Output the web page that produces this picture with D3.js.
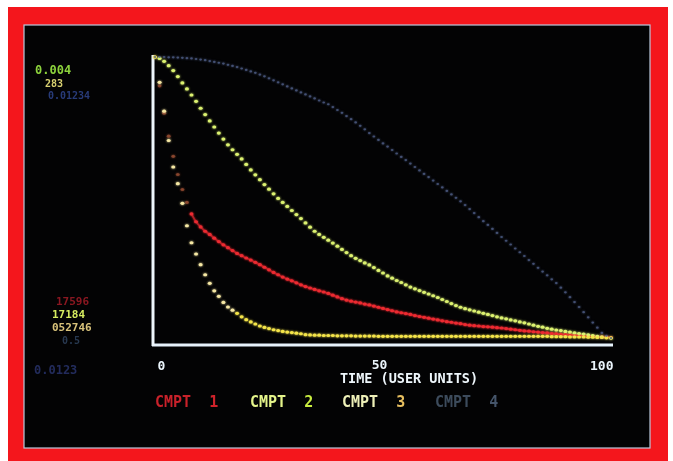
<!DOCTYPE html>
<html>
<head>
<meta charset="utf-8">
<script src="https://cdn.jsdelivr.net/npm/d3@7"></script>
<style>
  html, body { margin: 0; padding: 0; background: #ffffff; }
  svg { display: block; }
</style>
</head>
<body>
<svg id="chart" width="673" height="461"></svg>
<script>
// ---- data (values normalised to each compartment's start) ----
const times = [0,1,2,3,4,5,6,7,8,9,10,11,12,13,14,15,16,17,18,19,20,21,22,23,24,25,26,27,28,29,30,
  31,32,33,34,35,36,37,38,39,40,41,42,43,44,45,46,47,48,49,50,51,52,53,54,55,56,57,58,59,60,
  61,62,63,64,65,66,67,68,69,70,71,72,73,74,75,76,77,78,79,80,81,82,83,84,85,86,87,88,89,90,
  91,92,93,94,95,96,97,98,99,100];

const cmpt1 = [1.000,0.900,0.805,0.725,0.655,0.592,0.540,0.495,0.455,0.428,0.410,
  0.395,0.384,0.371,0.359,0.348,0.338,0.328,0.318,0.310,0.302,
  0.295,0.287,0.279,0.270,0.261,0.252,0.244,0.236,0.229,0.223,
  0.216,0.209,0.203,0.198,0.193,0.188,0.184,0.179,0.173,0.167,
  0.161,0.156,0.152,0.149,0.146,0.142,0.139,0.135,0.131,0.127,
  0.123,0.119,0.115,0.112,0.109,0.106,0.102,0.099,0.096,0.093,
  0.090,0.087,0.084,0.081,0.079,0.076,0.074,0.071,0.069,0.067,
  0.066,0.064,0.063,0.062,0.060,0.059,0.057,0.055,0.053,0.051,
  0.049,0.048,0.046,0.045,0.043,0.042,0.040,0.039,0.037,0.036,
  0.035,0.034,0.033,0.032,0.031,0.030,0.029,0.028,0.027,0.026];

const cmpt2 = [1.000,0.995,0.985,0.970,0.953,0.932,0.910,0.889,0.868,0.846,0.822,
  0.800,0.778,0.757,0.736,0.715,0.695,0.678,0.662,0.646,0.627,
  0.608,0.591,0.574,0.557,0.541,0.525,0.509,0.495,0.481,0.467,
  0.453,0.439,0.424,0.409,0.395,0.384,0.374,0.364,0.354,0.343,
  0.332,0.321,0.310,0.301,0.293,0.285,0.278,0.269,0.259,0.250,
  0.240,0.232,0.224,0.217,0.209,0.201,0.195,0.189,0.183,0.177,
  0.171,0.165,0.158,0.151,0.144,0.137,0.131,0.126,0.122,0.118,
  0.114,0.110,0.106,0.102,0.098,0.094,0.091,0.087,0.084,0.080,
  0.077,0.073,0.069,0.065,0.062,0.058,0.055,0.052,0.050,0.047,
  0.045,0.042,0.040,0.038,0.035,0.033,0.030,0.028,0.026,0.024];

const cmpt3 = [1.000,0.912,0.812,0.710,0.618,0.560,0.492,0.414,0.355,0.316,0.279,
  0.244,0.214,0.188,0.169,0.148,0.132,0.121,0.110,0.098,0.088,
  0.080,0.073,0.066,0.061,0.057,0.053,0.050,0.047,0.045,0.043,
  0.041,0.039,0.036,0.035,0.034,0.034,0.033,0.033,0.033,0.032,
  0.032,0.032,0.032,0.031,0.031,0.031,0.031,0.031,0.030,0.030,
  0.030,0.030,0.030,0.030,0.030,0.030,0.030,0.030,0.030,0.030,
  0.030,0.030,0.030,0.030,0.030,0.030,0.030,0.030,0.030,0.030,
  0.030,0.030,0.030,0.030,0.030,0.030,0.030,0.030,0.030,0.030,
  0.030,0.030,0.030,0.030,0.030,0.030,0.029,0.029,0.029,0.029,
  0.028,0.028,0.028,0.028,0.027,0.027,0.026,0.026,0.025,0.025];

const cmpt4 = [1.000,1.000,1.000,0.999,0.999,0.998,0.997,0.996,0.995,0.993,0.991,
  0.989,0.986,0.983,0.980,0.977,0.973,0.969,0.965,0.960,0.955,
  0.950,0.945,0.939,0.933,0.926,0.919,0.912,0.905,0.898,0.891,
  0.884,0.877,0.870,0.863,0.856,0.849,0.842,0.836,0.826,0.816,
  0.806,0.795,0.784,0.773,0.761,0.749,0.736,0.724,0.712,0.700,
  0.689,0.677,0.665,0.653,0.642,0.630,0.618,0.606,0.594,0.583,
  0.571,0.559,0.547,0.535,0.523,0.511,0.499,0.486,0.472,0.458,
  0.444,0.430,0.417,0.403,0.389,0.375,0.362,0.349,0.335,0.322,
  0.309,0.295,0.282,0.268,0.255,0.242,0.228,0.215,0.199,0.183,
  0.166,0.149,0.132,0.114,0.096,0.078,0.060,0.042,0.032,0.024];

const seriesNames = ["CMPT  1", "CMPT  2", "CMPT  3", "CMPT  4"];
const xTickValues = [0, 50, 100];
const xTitle = "TIME (USER UNITS)";
const topLabels = ["0.004", "283", "0.01234"];
const bottomLabels = ["17596", "17184", "052746", "0.5", "0.0123"];

// ---- drawing ----
const svg = d3.select("#chart");

const defs = svg.append("defs");
const glow = defs.append("filter").attr("id", "glow").attr("filterUnits", "userSpaceOnUse")
  .attr("x", -700).attr("y", -500).attr("width", 2100).attr("height", 1500);
glow.append("feGaussianBlur").attr("in", "SourceGraphic").attr("stdDeviation", 1.1).attr("result", "b");
const m = glow.append("feMerge");
m.append("feMergeNode").attr("in", "b");
m.append("feMergeNode").attr("in", "SourceGraphic");
const soft = defs.append("filter").attr("id", "soft").attr("filterUnits", "userSpaceOnUse")
  .attr("x", -700).attr("y", -500).attr("width", 2100).attr("height", 1500);
soft.append("feGaussianBlur").attr("stdDeviation", 0.45);

// red bezel and black screen
svg.append("rect").attr("x", 8).attr("y", 7).attr("width", 660).attr("height", 460).attr("fill", "#f4161c");
svg.append("rect").attr("x", 24).attr("y", 25).attr("width", 626).attr("height", 423)
  .attr("fill", "#030304").attr("stroke", "#b9c8dc").attr("stroke-width", 1.2);

const x = d3.scaleLinear().domain([0, 100]).range([155, 611]);
const y = d3.scaleLinear().domain([0, 1]).range([345, 57]);

const colors = ["#ec2a30", "#dcf270", "#f4e44a", "#4e5c86"];
const data = [cmpt1, cmpt2, cmpt3, cmpt4];

// axes
const xAxis = d3.axisBottom(x).tickValues(xTickValues).tickSize(0).tickSizeOuter(0).tickPadding(17);
const gx = svg.append("g").attr("transform", "translate(0,345)").call(xAxis).attr("filter", "url(#soft)");
gx.select(".domain").attr("stroke", "#e6f2fb").attr("stroke-width", 3).attr("d", "M152,0H613");
gx.selectAll(".tick text")
  .attr("fill", "#eaf4fb")
  .attr("font-family", "'DejaVu Sans Mono', monospace")
  .attr("font-weight", "bold")
  .attr("font-size", 13)
  .attr("text-anchor", d => d === 100 ? "end" : "middle")
  .attr("dx", d => d === 0 ? 6 : d === 50 ? -4 : 2)
  .attr("dy", d => d === 50 ? "0.5em" : "0.62em");

const yAxis = d3.axisLeft(y).tickValues([]).tickSizeOuter(0);
const gy = svg.append("g").attr("transform", "translate(153,0)").call(yAxis).attr("filter", "url(#soft)");
gy.select(".domain").attr("stroke", "#eef6fc").attr("stroke-width", 3).attr("d", "M0,55V346");

const plot = svg.append("g").attr("filter", "url(#glow)");

// curves (dot plots)
data.forEach((vals, i) => {
  const pts = times.map((t, k) => [t, vals[k]]);
  if (i === 0) {
    plot.append("path").datum(pts.filter(d => d[0] >= 8))
      .attr("d", d3.line().x(d => x(d[0])).y(d => y(d[1])).curve(d3.curveMonotoneX))
      .attr("fill", "none").attr("stroke", colors[i]).attr("stroke-width", 1.8).attr("opacity", 0.6);
  }
  plot.append("g").selectAll("ellipse").data(pts).join("ellipse")
    .attr("cx", d => x(d[0]))
    .attr("cy", d => y(d[1]))
    .attr("rx", i === 3 ? 1.4 : 2.0)
    .attr("ry", i === 3 ? 1.1 : 1.6)
    .attr("fill", (d, k) => {
      if (i === 2 && k > 0 && k < 18) return "#f6e8a4";
      if (i === 0 && k > 0 && k < 8) return "#e0704a";
      return colors[i];
    })
    .attr("opacity", (d, k) => i === 3 ? 0.8 : (i === 0 && k < 8 ? 0.45 : 1));
});

// x title
svg.append("text").attr("x", x(50) + 26).attr("y", 383)
  .attr("text-anchor", "middle")
  .attr("font-family", "'DejaVu Sans Mono', monospace").attr("font-weight", "bold")
  .attr("font-size", 13.5).attr("fill", "#eef6fb").attr("filter", "url(#soft)")
  .text(xTitle);

// legend
const legendX = [155, 250, 342, 435];
const legendWord = ["#c8202a", "#e4f48a", "#eef0b8", "#3c4c5c"];
const legendNum = ["#d0242c", "#c8ec40", "#e8c060", "#44546a"];
const lg = svg.append("g").attr("filter", "url(#soft)");
seriesNames.forEach((s, i) => {
  const t = lg.append("text").attr("x", legendX[i]).attr("y", 407)
    .attr("font-family", "'DejaVu Sans Mono', monospace").attr("font-weight", "bold")
    .attr("font-size", 15).attr("xml:space", "preserve").style("white-space", "pre");
  t.append("tspan").attr("fill", legendWord[i]).text(s.slice(0, 6));
  t.append("tspan").attr("fill", legendNum[i]).text(s.slice(6));
});

// left-side value readouts
const ll = svg.append("g").attr("filter", "url(#soft)")
  .attr("font-family", "'DejaVu Sans Mono', monospace").attr("font-weight", "bold");
const topPos = [[35, 74, "#8cd23c", 12], [45, 87, "#d8d070", 10], [48, 99, "#283a78", 10]];
topLabels.forEach((s, i) => {
  ll.append("text").attr("x", topPos[i][0]).attr("y", topPos[i][1])
    .attr("fill", topPos[i][2]).attr("font-size", topPos[i][3]).text(s);
});
const botPos = [[56, 305, "#8a1820", 11], [52, 318, "#d6ec60", 11], [52, 331, "#d8c27a", 11],
                [62, 344, "#283850", 10], [34, 374, "#222c5c", 12]];
bottomLabels.forEach((s, i) => {
  ll.append("text").attr("x", botPos[i][0]).attr("y", botPos[i][1])
    .attr("fill", botPos[i][2]).attr("font-size", botPos[i][3]).text(s);
});
</script>
</body>
</html>
